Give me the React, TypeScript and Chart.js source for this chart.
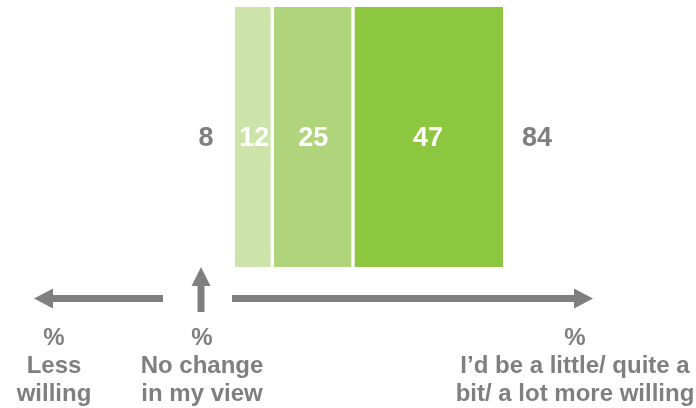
import React, { useEffect, useRef } from "react";
import { Chart, registerables } from "chart.js";

Chart.register(...registerables);

const categories = ["Willingness"];
const segmentNames = ["A little more willing", "Quite a bit more willing", "A lot more willing"];
const segmentValues = [12, 25, 47];
const segmentColors = ["#cce4a9", "#afd47b", "#8dc63f"];
const lessWilling = 8;
const moreWillingTotal = 84;
const leftLabel = ["%", "Less", "willing"];
const middleLabel = ["%", "No change", "in my view"];
const rightLabel = ["%", "I\u2019d be a little/ quite a", "bit/ a lot more willing"];

const GREY = "#7f7f7f";
const FONT = "Arial, 'Liberation Sans', Helvetica, sans-serif";
const leftBorders = [0, 1, 2];
const rightBorders = [3, 2, 0];

export default function App() {
  const ref = useRef<HTMLCanvasElement | null>(null);

  useEffect(() => {
    if (!ref.current) return;
    const n = segmentValues.length;
    const overlay = {
      id: "overlay",
      afterDraw(chart: any) {
        const ctx = chart.ctx;
        const xs = chart.scales.x;
        const area = chart.chartArea;
        const cy = (area.top + area.bottom) / 2 + 2;
        ctx.save();
        // segment value labels
        ctx.font = `bold 27px ${FONT}`;
        ctx.textAlign = "center";
        ctx.textBaseline = "middle";
        ctx.fillStyle = "#ffffff";
        for (let i = 0; i < n; i++) {
          const el = chart.getDatasetMeta(i).data[0];
          const cx = (el.x + el.base) / 2;
          ctx.fillText(String(segmentValues[i]), cx, cy);
        }
        ctx.fillStyle = GREY;
        ctx.fillText(String(lessWilling), xs.getPixelForValue(0) - 29, cy);
        ctx.fillText(String(moreWillingTotal), xs.getPixelForValue(moreWillingTotal) + 34, cy);

        // arrows
        const ay = 298.5;
        ctx.fillStyle = GREY;
        // left arrow
        ctx.fillRect(52, ay - 3.5, 163 - 52, 7);
        ctx.beginPath();
        ctx.moveTo(34, ay);
        ctx.lineTo(53, ay - 10);
        ctx.lineTo(53, ay + 10);
        ctx.closePath();
        ctx.fill();
        // right arrow
        ctx.fillRect(232, ay - 3.5, 575 - 232, 7);
        ctx.beginPath();
        ctx.moveTo(593, ay);
        ctx.lineTo(574, ay - 10);
        ctx.lineTo(574, ay + 10);
        ctx.closePath();
        ctx.fill();
        // up arrow
        const ux = 201;
        ctx.fillRect(ux - 3.5, 284, 7, 312 - 284);
        ctx.beginPath();
        ctx.moveTo(ux, 267);
        ctx.lineTo(ux - 9.5, 286);
        ctx.lineTo(ux + 9.5, 286);
        ctx.closePath();
        ctx.fill();

        // bottom labels
        ctx.font = `bold 24px ${FONT}`;
        ctx.textBaseline = "middle";
        const drawLines = (lines: string[], x: number) => {
          lines.forEach((t, k) => ctx.fillText(t, x, 338 + k * 28));
        };
        drawLines(leftLabel, 54);
        drawLines(middleLabel, 202);
        drawLines(rightLabel, 575);
        ctx.restore();
      },
    };

    const chart = new Chart(ref.current, {
      type: "bar",
      data: {
        labels: categories,
        datasets: segmentValues.map((v, i) => ({
          label: segmentNames[i],
          data: [v],
          backgroundColor: segmentColors[i],
          borderColor: "#ffffff",
          borderSkipped: false,
          borderWidth: {
            top: 0,
            bottom: 0,
            left: leftBorders[i],
            right: rightBorders[i],
          },
          barPercentage: 1,
          categoryPercentage: 1,
        })),
      },
      options: {
        indexAxis: "y",
        responsive: false,
        animation: false,
        layout: { padding: { left: 235, right: 193, top: 7, bottom: 141 } },
        plugins: { legend: { display: false }, tooltip: { enabled: false } },
        scales: {
          x: { stacked: true, min: 0, max: moreWillingTotal, display: false },
          y: { stacked: true, display: false },
        },
      },
      plugins: [overlay],
    } as any);
    return () => chart.destroy();
  }, []);

  return (
    <div style={{ position: "absolute", left: 0, top: 0, width: 696, height: 408, background: "#fff" }}>
      <canvas ref={ref} width={696} height={408} style={{ display: "block" }} />
    </div>
  );
}
